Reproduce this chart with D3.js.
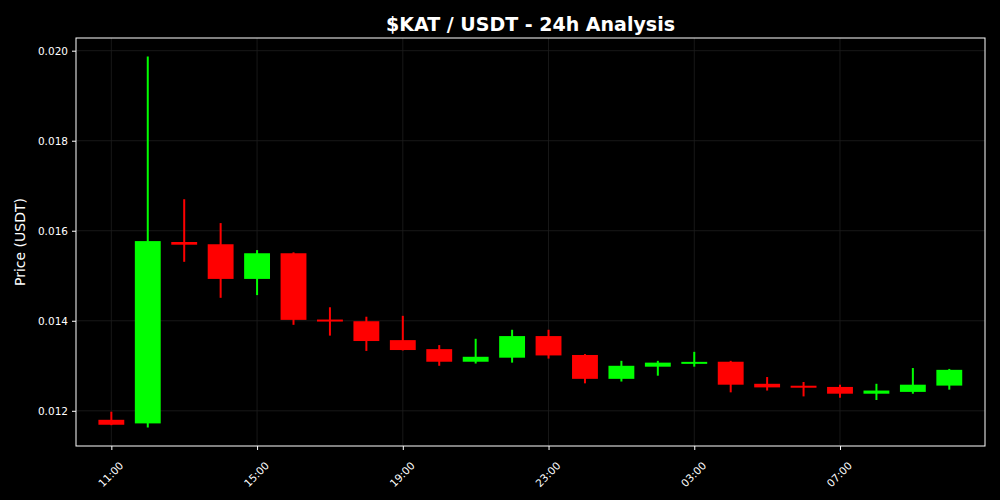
<!DOCTYPE html>
<html>
<head>
<meta charset="utf-8">
<script src="https://cdn.jsdelivr.net/npm/d3@7"></script>
<style>
  body { margin: 0; background: #000; }
  text { font-family: "DejaVu Sans", sans-serif; }
</style>
</head>
<body>
<div id="chart"></div>
<script>
const hours = ["11:00","12:00","13:00","14:00","15:00","16:00","17:00","18:00","19:00","20:00","21:00","22:00",
               "23:00","00:00","01:00","02:00","03:00","04:00","05:00","06:00","07:00","08:00","09:00","10:00"];
const opens  = [0.01180,0.01172,0.01575,0.01570,0.01493,0.01550,0.01401,0.01399,0.01357,0.01337,0.01309,0.01318,
                0.01366,0.01324,0.01271,0.01298,0.01305,0.01309,0.01260,0.01255,0.01253,0.01238,0.01242,0.01256];
const closes = [0.01169,0.01577,0.01569,0.01493,0.01550,0.01402,0.01400,0.01355,0.01335,0.01309,0.01320,0.01366,
                0.01323,0.01271,0.01300,0.01307,0.01308,0.01258,0.01252,0.01252,0.01238,0.01245,0.01258,0.01291];
const highs  = [0.01198,0.01987,0.01670,0.01617,0.01557,0.01552,0.01430,0.01409,0.01411,0.01346,0.01360,0.01380,
                0.01380,0.01326,0.01311,0.01311,0.01331,0.01311,0.01275,0.01264,0.01258,0.01260,0.01295,0.01293];
const lows   = [0.01168,0.01163,0.01531,0.01451,0.01457,0.01391,0.01367,0.01333,0.01334,0.01300,0.01305,0.01307,
                0.01316,0.01261,0.01265,0.01278,0.01298,0.01241,0.01245,0.01232,0.01229,0.01224,0.01238,0.01247];
const yTicks = [0.012, 0.014, 0.016, 0.018, 0.020];
const xTickLabels = ["11:00","15:00","19:00","23:00","03:00","07:00"];

const width = 1000, height = 500;
const margin = { top: 38, right: 15, bottom: 54, left: 76 };

const svg = d3.select("#chart").append("svg")
    .attr("width", width)
    .attr("height", height)
    .style("background", "#000");

const candles = hours.map((h, i) => ({
  i, label: h, open: opens[i], close: closes[i], high: highs[i], low: lows[i]
}));

const x = d3.scaleLinear()
    .domain([-0.97, 23.98])
    .range([margin.left, width - margin.right]);

const lo = d3.min(lows), hi = d3.max(highs), pad = (hi - lo) * 0.05;
const y = d3.scaleLinear()
    .domain([lo - pad, hi + pad])
    .range([height - margin.bottom, margin.top]);

const bodyW = x(0.71) - x(0);

// grid
svg.append("g")
  .selectAll("line.gy")
  .data(yTicks)
  .enter().append("line")
    .attr("x1", margin.left).attr("x2", width - margin.right)
    .attr("y1", d => y(d)).attr("y2", d => y(d))
    .attr("stroke", "#1e1e1e").attr("stroke-width", 0.8);

const xTickIdx = xTickLabels.map(l => hours.indexOf(l));
svg.append("g")
  .selectAll("line.gx")
  .data(xTickIdx)
  .enter().append("line")
    .attr("x1", d => x(d)).attr("x2", d => x(d))
    .attr("y1", margin.top).attr("y2", height - margin.bottom)
    .attr("stroke", "#1e1e1e").attr("stroke-width", 0.8);

// candles
const color = d => d.close >= d.open ? "#00ff00" : "#ff0000";

const g = svg.append("g");
g.selectAll(".wick")
  .data(candles)
  .enter().append("line")
    .attr("class", "wick")
    .attr("x1", d => x(d.i)).attr("x2", d => x(d.i))
    .attr("y1", d => y(d.high)).attr("y2", d => y(d.low))
    .attr("stroke", color).attr("stroke-width", 2);

g.selectAll(".body")
  .data(candles)
  .enter().append("rect")
    .attr("class", "body")
    .attr("x", d => x(d.i) - bodyW / 2)
    .attr("width", bodyW)
    .attr("y", d => {
      const top = y(Math.max(d.open, d.close)), bot = y(Math.min(d.open, d.close));
      return bot - top < 2 ? (top + bot) / 2 - 1 : top;
    })
    .attr("height", d => Math.max(2, y(Math.min(d.open, d.close)) - y(Math.max(d.open, d.close))))
    .attr("fill", color);

// axes
const yAxis = d3.axisLeft(y).tickValues(yTicks).tickFormat(d3.format(".3f")).tickSize(4).tickPadding(4);
const yG = svg.append("g").attr("transform", `translate(${margin.left},0)`).call(yAxis);

const xAxis = d3.axisBottom(x).tickValues(xTickIdx).tickFormat(d => hours[d]).tickSize(4).tickPadding(4);
const xG = svg.append("g").attr("transform", `translate(0,${height - margin.bottom})`).call(xAxis);

[yG, xG].forEach(a => {
  a.select(".domain").remove();
  a.selectAll(".tick line").attr("stroke", "#fff");
  a.selectAll(".tick text").attr("fill", "#fff").style("font-size", "10.5px");
});

xG.selectAll(".tick text")
    .attr("text-anchor", "end")
    .attr("dy", "0.35em")
    .attr("transform", "translate(4,12) rotate(-45)");

// frame
svg.append("rect")
    .attr("x", margin.left).attr("y", margin.top)
    .attr("width", width - margin.left - margin.right)
    .attr("height", height - margin.top - margin.bottom)
    .attr("fill", "none").attr("stroke", "#fff").attr("stroke-width", 1);

// titles
svg.append("text")
    .attr("x", (margin.left + width - margin.right) / 2)
    .attr("y", 31)
    .attr("text-anchor", "middle")
    .attr("fill", "#fff")
    .style("font-size", "19px").style("font-weight", "bold")
    .text("$KAT / USDT - 24h Analysis");

svg.append("text")
    .attr("transform", `translate(25,${(margin.top + height - margin.bottom) / 2}) rotate(-90)`)
    .attr("text-anchor", "middle")
    .attr("fill", "#fff")
    .style("font-size", "14px")
    .text("Price (USDT)");
</script>
</body>
</html>
